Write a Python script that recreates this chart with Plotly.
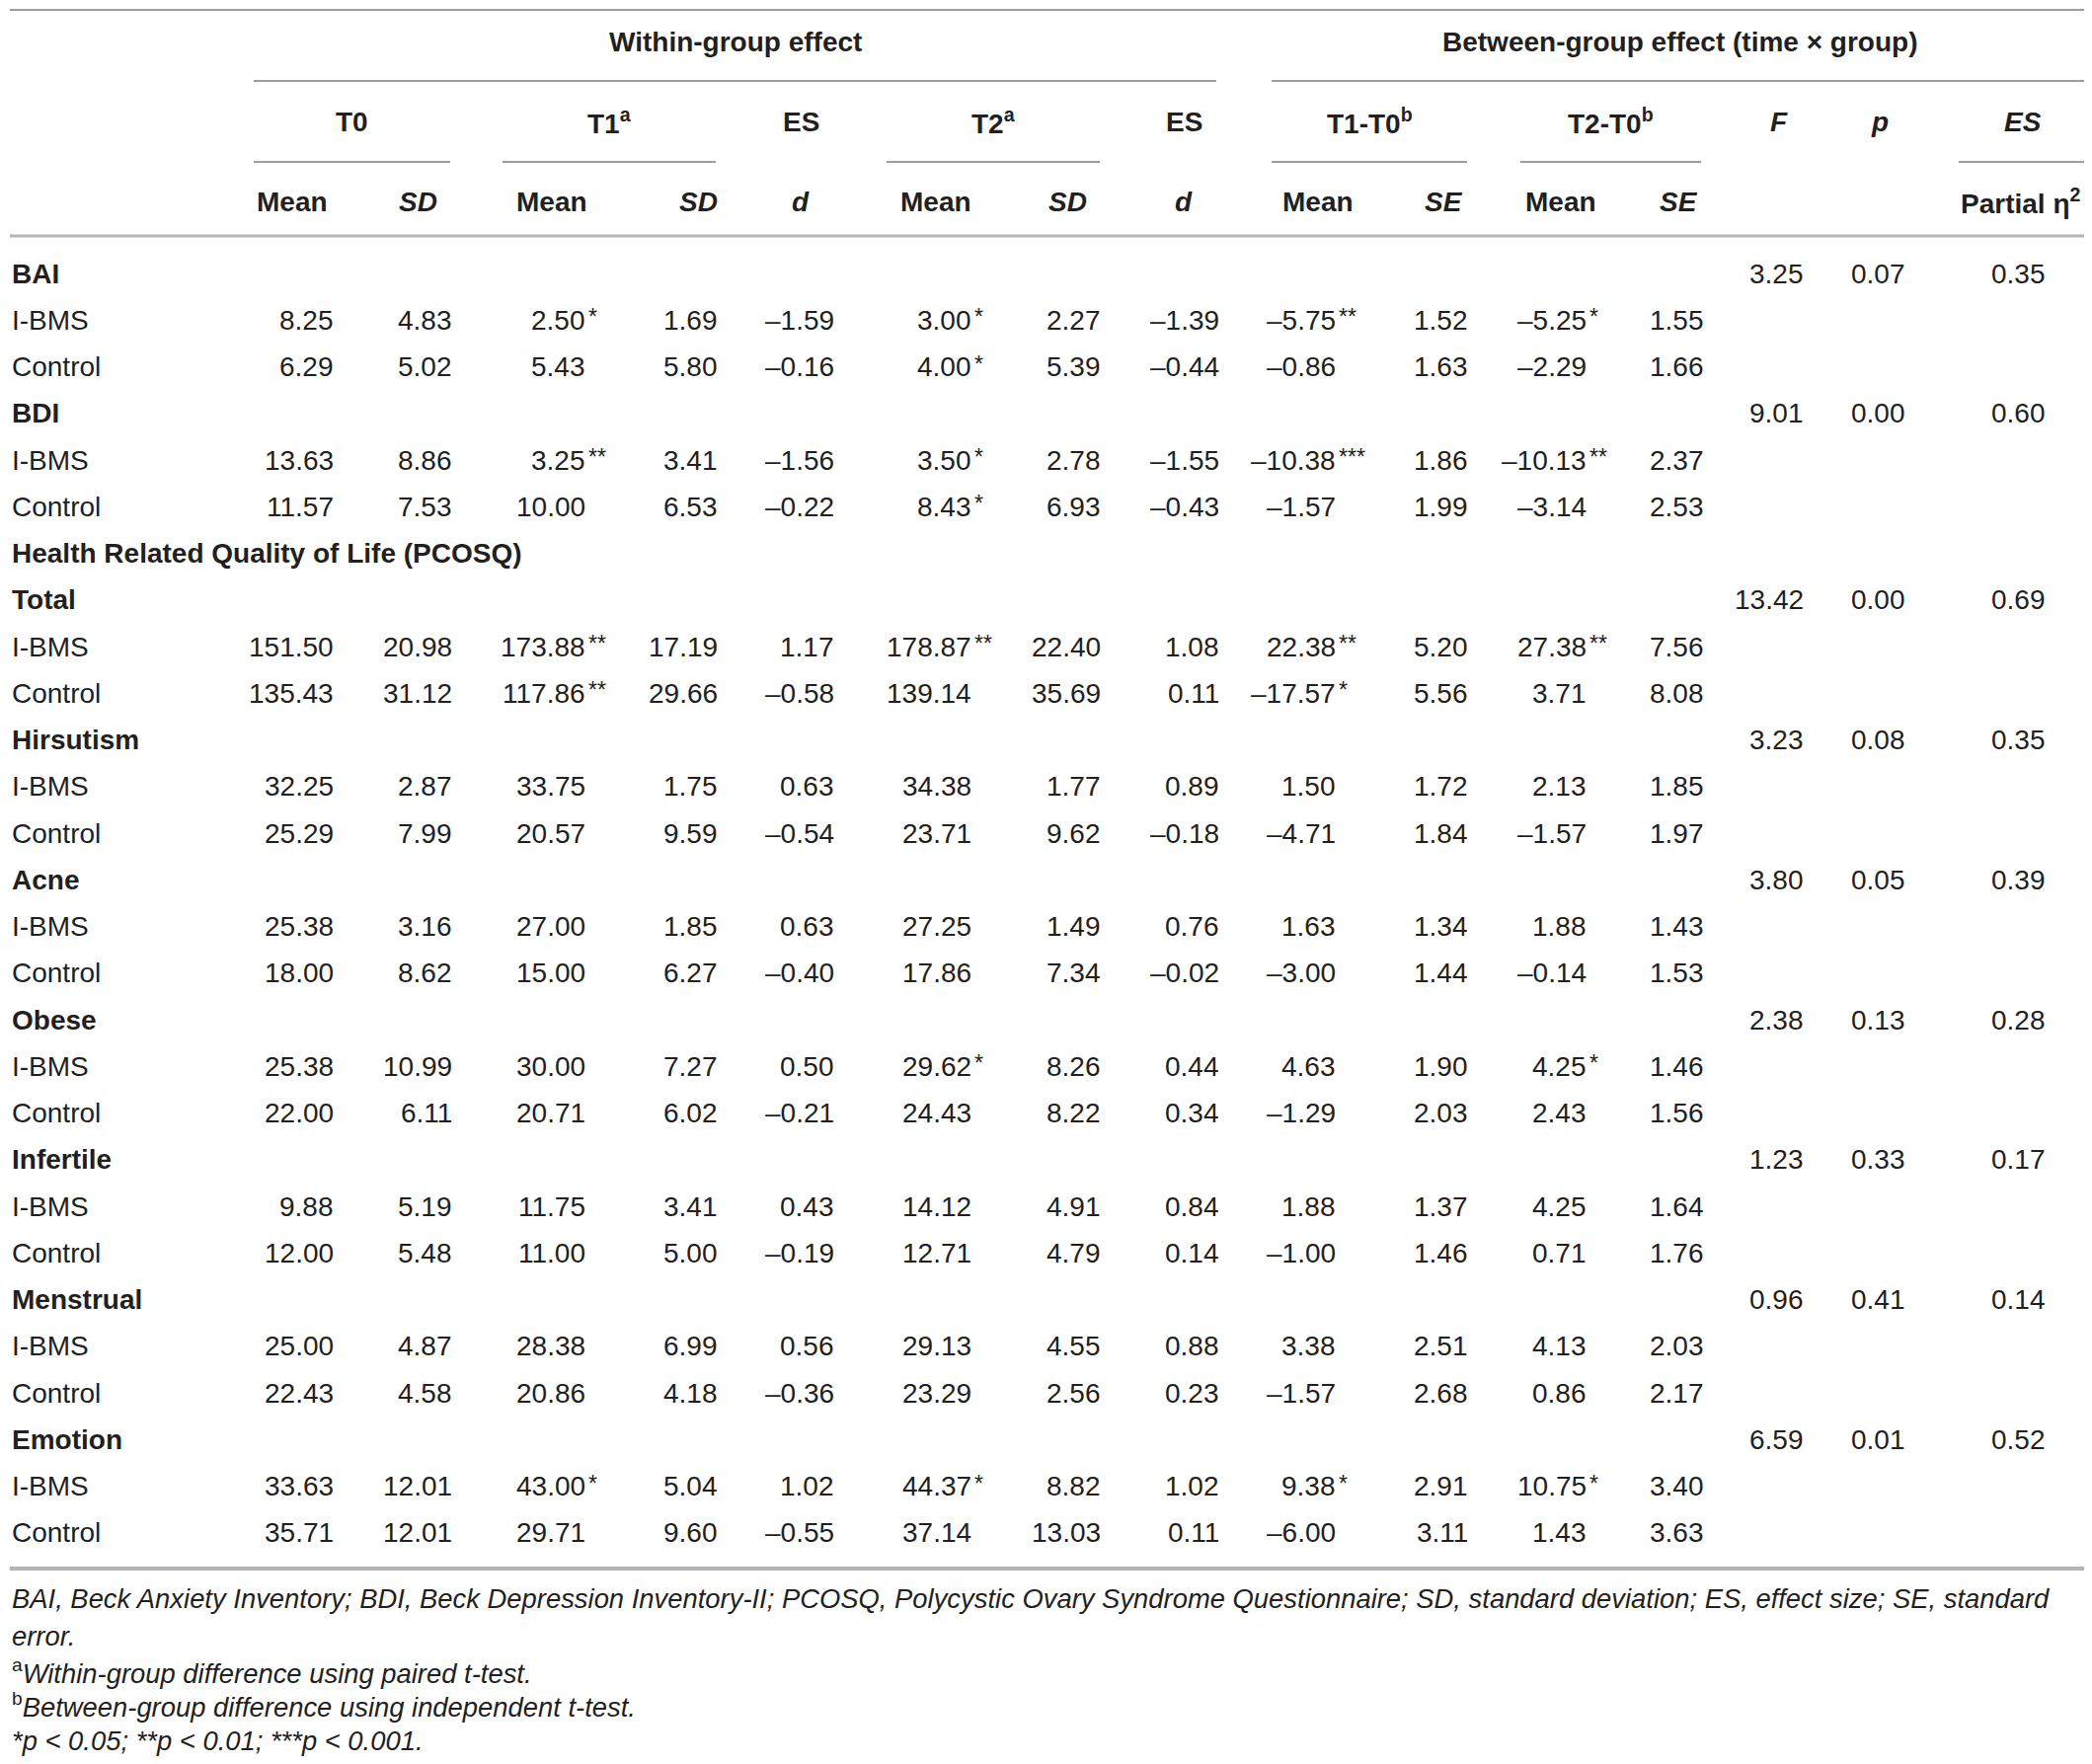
import plotly.graph_objects as go

# table content
measures = ["BAI", "BDI", "Total", "Hirsutism", "Acne", "Obese", "Infertile", "Menstrual", "Emotion"]
groups = ["I-BMS", "Control"]
section_title = "Health Related Quality of Life (PCOSQ)"

# values per measure: I-BMS, Control
t0_mean = [8.25, 6.29, 13.63, 11.57, 151.50, 135.43, 32.25, 25.29, 25.38, 18.00,
           25.38, 22.00, 9.88, 12.00, 25.00, 22.43, 33.63, 35.71]
t0_sd = [4.83, 5.02, 8.86, 7.53, 20.98, 31.12, 2.87, 7.99, 3.16, 8.62,
         10.99, 6.11, 5.19, 5.48, 4.87, 4.58, 12.01, 12.01]
t1_mean = [2.50, 5.43, 3.25, 10.00, 173.88, 117.86, 33.75, 20.57, 27.00, 15.00,
           30.00, 20.71, 11.75, 11.00, 28.38, 20.86, 43.00, 29.71]
t1_mean_sig = ["*", "", "**", "", "**", "**", "", "", "", "",
               "", "", "", "", "", "", "*", ""]
t1_sd = [1.69, 5.80, 3.41, 6.53, 17.19, 29.66, 1.75, 9.59, 1.85, 6.27,
         7.27, 6.02, 3.41, 5.00, 6.99, 4.18, 5.04, 9.60]
es1_d = [-1.59, -0.16, -1.56, -0.22, 1.17, -0.58, 0.63, -0.54, 0.63, -0.40,
         0.50, -0.21, 0.43, -0.19, 0.56, -0.36, 1.02, -0.55]
t2_mean = [3.00, 4.00, 3.50, 8.43, 178.87, 139.14, 34.38, 23.71, 27.25, 17.86,
           29.62, 24.43, 14.12, 12.71, 29.13, 23.29, 44.37, 37.14]
t2_mean_sig = ["*", "*", "*", "*", "**", "", "", "", "", "",
               "*", "", "", "", "", "", "*", ""]
t2_sd = [2.27, 5.39, 2.78, 6.93, 22.40, 35.69, 1.77, 9.62, 1.49, 7.34,
         8.26, 8.22, 4.91, 4.79, 4.55, 2.56, 8.82, 13.03]
es2_d = [-1.39, -0.44, -1.55, -0.43, 1.08, 0.11, 0.89, -0.18, 0.76, -0.02,
         0.44, 0.34, 0.84, 0.14, 0.88, 0.23, 1.02, 0.11]
d10_mean = [-5.75, -0.86, -10.38, -1.57, 22.38, -17.57, 1.50, -4.71, 1.63, -3.00,
            4.63, -1.29, 1.88, -1.00, 3.38, -1.57, 9.38, -6.00]
d10_mean_sig = ["**", "", "***", "", "**", "*", "", "", "", "",
                "", "", "", "", "", "", "*", ""]
d10_se = [1.52, 1.63, 1.86, 1.99, 5.20, 5.56, 1.72, 1.84, 1.34, 1.44,
          1.90, 2.03, 1.37, 1.46, 2.51, 2.68, 2.91, 3.11]
d20_mean = [-5.25, -2.29, -10.13, -3.14, 27.38, 3.71, 2.13, -1.57, 1.88, -0.14,
            4.25, 2.43, 4.25, 0.71, 4.13, 0.86, 10.75, 1.43]
d20_mean_sig = ["*", "", "**", "", "**", "", "", "", "", "",
                "*", "", "", "", "", "", "*", ""]
d20_se = [1.55, 1.66, 2.37, 2.53, 7.56, 8.08, 1.85, 1.97, 1.43, 1.53,
          1.46, 1.56, 1.64, 1.76, 2.03, 2.17, 3.40, 3.63]

# per measure (time x group)
f_value = [3.25, 9.01, 13.42, 3.23, 3.80, 2.38, 1.23, 0.96, 6.59]
p_value = [0.07, 0.00, 0.00, 0.08, 0.05, 0.13, 0.33, 0.41, 0.01]
partial_eta = [0.35, 0.60, 0.69, 0.35, 0.39, 0.28, 0.17, 0.14, 0.52]

footnotes = [
    "<i>BAI, Beck Anxiety Inventory; BDI, Beck Depression Inventory-II; PCOSQ, Polycystic Ovary Syndrome Questionnaire; SD, standard deviation; ES, effect size; SE, standard</i>",
    "<i>error.</i>",
    "<sup>a</sup><i>Within-group difference using paired t-test.</i>",
    "<sup>b</sup><i>Between-group difference using independent t-test.</i>",
    "<i>*p < 0.05; **p < 0.01; ***p < 0.001.</i>",
]

W, H = 2119, 1787
PAGE_PAD = 8  # default body margin of the html page
LEFT = 10     # left edge of row labels / rules
FONT = "Liberation Sans, Arial, sans-serif"
FS = 28
TXT = "#231f20"
RULE = "#9d9d9d"


def fmt(v):
    return f"{v:.2f}".replace("-", "\u2013")


fig = go.Figure()
ann = []


def put(x, y, text, anchor="center", bold=False, size=FS, color=TXT):
    if bold:
        text = "<b>" + text + "</b>"
    ann.append(dict(x=x, y=y, xref="x", yref="y", text=text, showarrow=False,
                    xanchor=anchor, yanchor="middle",
                    font=dict(family=FONT, size=size, color=color)))


def hline(x0, x1, y, width=2, color=RULE):
    fig.add_shape(type="line", xref="x", yref="y", x0=x0, x1=x1, y0=y, y1=y,
                  line=dict(color=color, width=width))


# header rules
hline(LEFT, 2113, 10)
hline(257, 1232, 82)
hline(1288, 2113, 82)
for a, b in [(257, 456), (509, 725), (898, 1114), (1288, 1486), (1540, 1723), (1984, 2113)]:
    hline(a, b, 164)
hline(LEFT, 2113, 239, width=3, color="#b4b4b4")
hline(LEFT, 2113, 1589, width=4, color="#b4b4b4")

# header text
put(745, 42, "Within-group effect", bold=True)
put(1701, 42, "Between-group effect (time \u00d7 group)", bold=True)
top_heads = [(356, "T0"), (617, "T1<sup>a</sup>"), (811, "ES"), (1006, "T2<sup>a</sup>"),
             (1199, "ES"), (1387, "T1-T0<sup>b</sup>"), (1631, "T2-T0<sup>b</sup>"),
             (1802, "<i>F</i>"), (1904, "<i>p</i>"), (2049, "<i>ES</i>")]
for x, t in top_heads:
    put(x, 123, t, bold=True)
sub_heads = [(296, "Mean"), (423, "<i>SD</i>"), (559, "Mean"), (707, "<i>SD</i>"),
             (811, "<i>d</i>"), (948, "Mean"), (1081, "<i>SD</i>"), (1199, "<i>d</i>"),
             (1335, "Mean"), (1462, "<i>SE</i>"), (1581, "Mean"), (1700, "<i>SE</i>"),
             (2046, "Partial \u03b7<sup>2</sup>")]
for x, t in sub_heads:
    put(x, 204, t, bold=True)

# body
row_y0, row_step = 277, 47.25
group_cols = [
    (340, t0_mean, None), (460, t0_sd, None),
    (595, t1_mean, t1_mean_sig), (729, t1_sd, None), (847, es1_d, None),
    (986, t2_mean, t2_mean_sig), (1117, t2_sd, None), (1237, es2_d, None),
    (1355, d10_mean, d10_mean_sig), (1489, d10_se, None),
    (1609, d20_mean, d20_mean_sig), (1728, d20_se, None),
]
measure_cols = [(1829, f_value), (1932, p_value), (2074, partial_eta)]

row = 0
for m_i, m in enumerate(measures):
    if m == "Total":
        put(LEFT, row_y0 + row * row_step, section_title, anchor="left", bold=True)
        row += 1
    y = row_y0 + row * row_step
    put(LEFT, y, m, anchor="left", bold=True)
    for x, vals in measure_cols:
        put(x, y, fmt(vals[m_i]), anchor="right")
    row += 1
    for g_i, g in enumerate(groups):
        k = m_i * 2 + g_i
        y = row_y0 + row * row_step
        put(LEFT, y, g, anchor="left")
        for x, vals, sig in group_cols:
            put(x, y, fmt(vals[k]), anchor="right")
            if sig and sig[k]:
                put(x - 1, y - 3, sig[k], anchor="left", size=FS - 5)
        row += 1

# footnotes
for y, t in zip([1619, 1657, 1693, 1727, 1763], footnotes):
    put(LEFT, y, t, anchor="left", size=27.4)

fig.update_layout(
    annotations=ann,
    width=W - PAGE_PAD, height=H - PAGE_PAD,
    margin=dict(l=0, r=0, t=0, b=0),
    paper_bgcolor="white", plot_bgcolor="white",
    xaxis=dict(range=[PAGE_PAD, W], visible=False, fixedrange=True),
    yaxis=dict(range=[H, PAGE_PAD], visible=False, fixedrange=True),
    showlegend=False,
)

fig.write_html("out.html")
